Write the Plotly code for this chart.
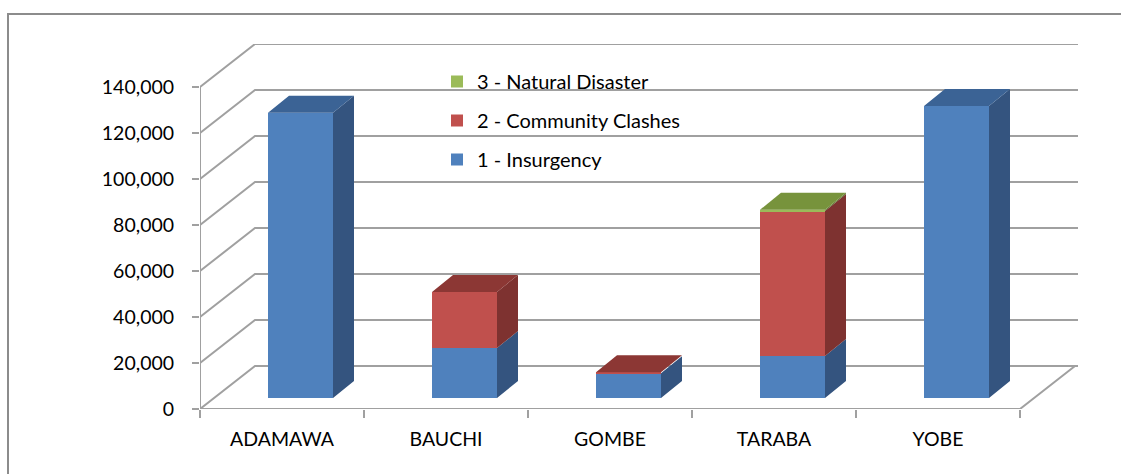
import plotly.graph_objects as go

# ---------------- data ----------------
categories = ["ADAMAWA", "BAUCHI", "GOMBE", "TARABA", "YOBE"]
series_names = ["1 - Insurgency", "2 - Community Clashes", "3 - Natural Disaster"]
insurgency = [124000, 21700, 10800, 18300, 127000]
community_clashes = [0, 24400, 400, 63000, 0]
natural_disaster = [0, 0, 0, 500, 0]
y_tick_values = [0, 20000, 40000, 60000, 80000, 100000, 120000, 140000]
y_tick_labels = ["0", "20,000", "40,000", "60,000", "80,000", "100,000", "120,000", "140,000"]

series_values = [insurgency, community_clashes, natural_disaster]
front_colors = ["#4F81BD", "#C0504D", "#9BBB59"]
side_colors = ["#34547F", "#7E3230", "#5F7530"]
top_colors = ["#3B6395", "#8C3734", "#77933C"]

# ---------------- geometry (pixel-based projection) ----------------
W, H = 1121, 474
PL, PR, PT, PB = 200, 1078, 44, 409          # plot area in pixels
PX_CAT = 164.0                                 # pixels per category
PX_VAL = 2.3 / 1000.0                          # pixels per value unit
X_MAX = (PR - PL) / PX_CAT
Y_MAX = (PB - PT) / PX_VAL
DX, DY = 55 / PX_CAT, 43 / PX_VAL              # wall depth
FX, FY = 18.5 / PX_CAT, 11 / PX_VAL            # bar front plane offset
SX, SY = 21 / PX_CAT, 17 / PX_VAL              # bar depth
BW = 65 / PX_CAT                               # bar width
N = len(categories)

fig = go.Figure()

centers = [i + 0.5 + FX for i in range(N)]
cum = [0.0] * N
top_index = [max([k for k in range(3) if series_values[k][i] > 0]) for i in range(N)]

for k, vals in enumerate(series_values):
    bases = [FY + cum[i] for i in range(N)]
    fig.add_trace(go.Bar(
        x=centers, y=vals, base=bases, width=BW, name=series_names[k],
        marker=dict(color=front_colors[k], line=dict(width=0)),
        legendgroup=str(k), legendrank=10 - k, hoverinfo="skip"))
    sx, sy, tx, ty = [], [], [], []
    for i in range(N):
        v = vals[i]
        if v <= 0:
            continue
        x0 = centers[i] - BW / 2
        x1 = centers[i] + BW / 2
        b = bases[i]
        t = b + v
        sx += [x1, x1 + SX, x1 + SX, x1, x1, None]
        sy += [b, b + SY, t + SY, t, b, None]
        if top_index[i] == k:
            tx += [x0, x1, x1 + SX, x0 + SX, x0, None]
            ty += [t, t, t + SY, t + SY, t, None]
    fig.add_trace(go.Scatter(x=sx, y=sy, fill="toself", fillcolor=side_colors[k],
                             mode="lines", line=dict(width=0), showlegend=False,
                             hoverinfo="skip"))
    if tx:
        fig.add_trace(go.Scatter(x=tx, y=ty, fill="toself", fillcolor=top_colors[k],
                                 mode="lines", line=dict(width=0), showlegend=False,
                                 hoverinfo="skip"))
    cum = [cum[i] + vals[i] for i in range(N)]

# ---------------- walls / grid ----------------
grid_col = "#A0A0A0"
shapes = []
for v in y_tick_values:
    shapes.append(dict(type="path", xref="x", yref="y", layer="below",
                       path=f"M0,{v} L{DX},{v + DY} L{X_MAX},{v + DY}",
                       line=dict(color=grid_col, width=2)))
# front-left vertical edge
shapes.append(dict(type="line", xref="x", yref="y", layer="below",
                   x0=0, y0=0, x1=0, y1=y_tick_values[-1],
                   line=dict(color=grid_col, width=2)))
# floor front and right edges
shapes.append(dict(type="path", xref="x", yref="y", layer="below",
                   path=f"M0,0 L{N},0 L{N + DX},{DY}",
                   line=dict(color=grid_col, width=2)))
# outer chart border (top and left)
bx = (8 - PL) / (PR - PL)
by_top = (PB - 14) / (PB - PT)
by_bot = (PB - H - 5) / (PB - PT)
bx_r = (W + 5 - PL) / (PR - PL)
shapes.append(dict(type="path", xref="paper", yref="paper", layer="below",
                   path=f"M{bx},{by_bot} L{bx},{by_top} L{bx_r},{by_top}",
                   line=dict(color="#8C8C8C", width=2)))

font_family = "Lato, 'Open Sans', sans-serif"

fig.update_layout(
    width=W, height=H,
    margin=dict(l=PL, r=W - PR, t=PT, b=H - PB, pad=0),
    paper_bgcolor="white", plot_bgcolor="white",
    barmode="overlay",
    shapes=shapes,
    font=dict(family=font_family, size=19.5, color="#000000"),
    showlegend=True,
    legend=dict(x=(437 - PL) / (PR - PL), y=(PB - 62) / (PB - PT),
                xanchor="left", yanchor="top",
                traceorder="grouped", tracegroupgap=10,
                bgcolor="rgba(0,0,0,0)", font=dict(size=20)),
    xaxis=dict(range=[0, X_MAX], showgrid=False, zeroline=False, showline=False,
               tickmode="array", tickvals=[i + 0.5 for i in range(N)],
               ticktext=categories, ticks="", ticklabelstandoff=16,
               minor=dict(tickmode="array", tickvals=list(range(N + 1)),
                          ticks="outside", ticklen=8, tickcolor=grid_col,
                          tickwidth=2, showgrid=False),
               fixedrange=True),
    yaxis=dict(range=[0, Y_MAX], showgrid=False, zeroline=False, showline=False,
               tickmode="array", tickvals=y_tick_values, ticktext=y_tick_labels,
               ticks="outside", ticklen=7, tickcolor=grid_col, tickwidth=2,
               ticklabelstandoff=14, fixedrange=True),
)

fig.write_html("out.html", config={"displayModeBar": False},
               post_script="document.body.style.margin='0';")
